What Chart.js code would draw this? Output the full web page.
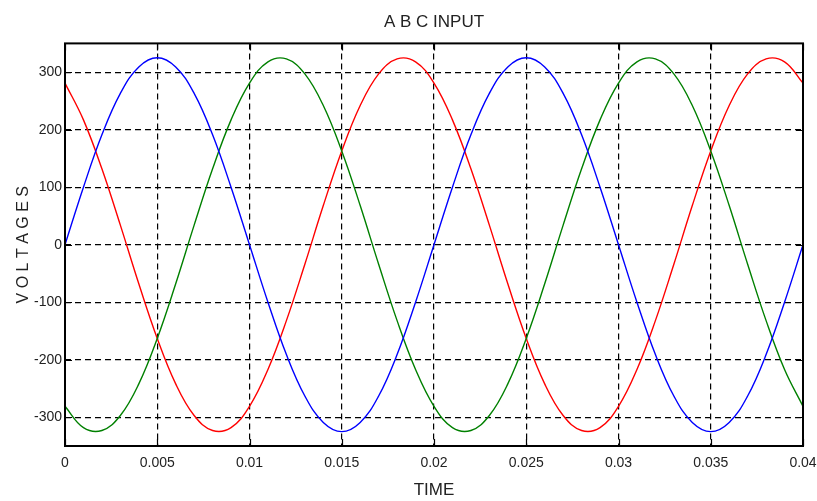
<!DOCTYPE html>
<html>
<head>
    <title>ABC Input</title>
    <script src="https://cdn.jsdelivr.net/npm/chart.js"></script>
    <style>
        body { margin: 0; background: #fff; }
        #wrap { width: 817px; height: 501px; }
    </style>
</head>
<body>
<div id="wrap"><canvas id="abcChart" width="817" height="501"></canvas></div>

<script>
// time samples, seconds
const times = [0, 0.001, 0.002, 0.003, 0.004, 0.005, 0.006, 0.007, 0.008, 0.009,
    0.010, 0.011, 0.012, 0.013, 0.014, 0.015, 0.016, 0.017, 0.018, 0.019,
    0.020, 0.021, 0.022, 0.023, 0.024, 0.025, 0.026, 0.027, 0.028, 0.029,
    0.030, 0.031, 0.032, 0.033, 0.034, 0.035, 0.036, 0.037, 0.038, 0.039, 0.040];

// phase voltages
const phaseA = [0, 100, 191, 263, 309, 325, 309, 263, 191, 100,
    0, -100, -191, -263, -309, -325, -309, -263, -191, -100,
    0, 100, 191, 263, 309, 325, 309, 263, 191, 100,
    0, -100, -191, -263, -309, -325, -309, -263, -191, -100, 0];
const phaseB = [-281, -318, -323, -297, -242, -163, -68, 34, 132, 217,
    281, 318, 323, 297, 242, 163, 68, -34, -132, -217,
    -281, -318, -323, -297, -242, -163, -68, 34, 132, 217,
    281, 318, 323, 297, 242, 163, 68, -34, -132, -217, -281];
const phaseC = [281, 217, 132, 34, -68, -163, -242, -297, -323, -318,
    -281, -217, -132, -34, 68, 163, 242, 297, 323, 318,
    281, 217, 132, 34, -68, -163, -242, -297, -323, -318,
    -281, -217, -132, -34, 68, 163, 242, 297, 323, 318, 281];

const xTicks = [0, 0.005, 0.01, 0.015, 0.02, 0.025, 0.03, 0.035, 0.04];
const xTickLabels = ['0', '0.005', '0.01', '0.015', '0.02', '0.025', '0.03', '0.035', '0.04'];
const yTicks = [-300, -200, -100, 0, 100, 200, 300];

const narrow = "'Liberation Sans Narrow', 'Liberation Sans', Arial, sans-serif";

function pts(vals) {
    return times.map((t, i) => ({ x: t, y: vals[i] }));
}

// box round the axes plus short inward ticks, matlab style
const frame = {
    id: 'frame',
    afterDatasetsDraw(chart) {
        const { ctx, chartArea: a, scales } = chart;
        const len = 7;
        ctx.save();
        ctx.strokeStyle = '#000';
        ctx.lineWidth = 1.2;
        ctx.beginPath();
        xTicks.forEach(v => {
            const x = Math.round(scales.x.getPixelForValue(v)) + 0.5;
            ctx.moveTo(x, a.top); ctx.lineTo(x, a.top + len);
            ctx.moveTo(x, a.bottom); ctx.lineTo(x, a.bottom - len);
        });
        yTicks.forEach(v => {
            const y = Math.round(scales.y.getPixelForValue(v)) + 0.5;
            ctx.moveTo(a.left, y); ctx.lineTo(a.left + len, y);
            ctx.moveTo(a.right, y); ctx.lineTo(a.right - len, y);
        });
        ctx.stroke();
        ctx.lineWidth = 2;
        ctx.strokeRect(a.left, a.top, a.right - a.left, a.bottom - a.top);
        ctx.restore();
    }
};

new Chart(document.getElementById('abcChart'), {
    type: 'line',
    data: {
        datasets: [
            { label: 'A', data: pts(phaseA), borderColor: '#0000ff' },
            { label: 'B', data: pts(phaseB), borderColor: '#008000' },
            { label: 'C', data: pts(phaseC), borderColor: '#ff0000' }
        ]
    },
    options: {
        responsive: false,
        animation: false,
        events: [],
        layout: { padding: 0 },
        elements: {
            line: { borderWidth: 1.4, tension: 0.4, fill: false },
            point: { radius: 0 }
        },
        plugins: {
            legend: { display: false },
            tooltip: { enabled: false },
            title: {
                display: true,
                fullSize: false,
                text: 'A B C INPUT',
                color: '#222',
                font: { family: narrow, size: 17, weight: 'normal' },
                padding: { top: 12, bottom: 11 }
            }
        },
        scales: {
            x: {
                type: 'linear',
                min: 0,
                max: 0.04,
                afterFit: s => { s.height = 55; s.paddingLeft = 0; s.paddingRight = 14; },
                afterBuildTicks: s => { s.ticks = xTicks.map(v => ({ value: v })); },
                grid: { color: '#000', lineWidth: 1.2, drawTicks: false },
                border: { display: false, dash: [6, 4] },
                ticks: {
                    padding: 9,
                    maxRotation: 0,
                    autoSkip: false,
                    color: '#222',
                    font: { family: narrow, size: 14 },
                    callback: v => xTickLabels[xTicks.indexOf(v)]
                },
                title: {
                    display: true,
                    text: 'TIME',
                    color: '#222',
                    font: { family: narrow, size: 17 },
                    padding: { top: 0, bottom: 0 }
                }
            },
            y: {
                min: -350,
                max: 350,
                afterFit: s => { s.width = 65; },
                afterBuildTicks: s => { s.ticks = yTicks.map(v => ({ value: v })); },
                grid: { color: '#000', lineWidth: 1.2, drawTicks: false },
                border: { display: false, dash: [6, 4] },
                ticks: {
                    padding: 3,
                    color: '#222',
                    font: { family: narrow, size: 14 }
                },
                title: {
                    display: true,
                    text: 'V O L T A G E S',
                    color: '#222',
                    font: { family: "'Liberation Sans', Arial, sans-serif", size: 16 },
                    padding: { top: 14, bottom: 0 }
                }
            }
        }
    },
    plugins: [frame]
});
</script>
</body>
</html>
